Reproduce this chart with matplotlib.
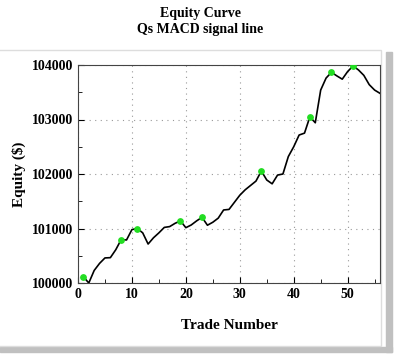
import numpy as np
import matplotlib.pyplot as plt
from matplotlib.patches import Rectangle
from matplotlib.ticker import MultipleLocator

plt.rcParams['font.family'] = ['Liberation Serif', 'DejaVu Serif']
plt.rcParams['font.weight'] = 'bold'

# equity after each trade
trades = list(range(1, 57))
equity = [100115, 100000, 100230, 100360, 100460, 100465, 100610, 100795,
          100790, 100980, 101000, 100920, 100715, 100830, 100920, 101020,
          101035, 101095, 101140, 101015, 101065, 101140, 101205, 101060,
          101115, 101190, 101340, 101350, 101480, 101610, 101710, 101790,
          101870, 102055, 101890, 101820, 101980, 102000, 102320, 102500,
          102715, 102750, 103050, 102940, 103540, 103760, 103866, 103800,
          103740, 103880, 103982, 103910, 103810, 103640, 103540, 103480]

# new equity highs marked in green
peak_trades = [1, 8, 11, 19, 23, 34, 43, 47, 51]
peak_equity = [100115, 100795, 101000, 101140, 101205, 102055, 103050, 103866, 103982]

fig = plt.figure(figsize=(4.0, 3.57), dpi=100)
W, H = 400, 357

# panel frame and drop shadow
fig.patches.append(Rectangle((386 / W, 1 - 352 / H), 6 / W, 300 / H,
                             transform=fig.transFigure, color='#c0c0c0', zorder=-10))
fig.patches.append(Rectangle((0, 1 - 352 / H), 392 / W, 5 / H,
                             transform=fig.transFigure, color='#c0c0c0', zorder=-10))
fig.patches.append(Rectangle((-0.01, 1 - 346 / H), 385 / W, 296 / H,
                             transform=fig.transFigure, facecolor='white',
                             edgecolor='#dddddd', lw=1, zorder=-9))

ax = fig.add_axes([78 / W, 1 - 283 / H, 302 / W, 218 / H], zorder=1)
ax.plot(trades, equity, color='black', lw=1.2, zorder=3)
ax.scatter(peak_trades, peak_equity, s=15, color='#22dd22', zorder=4)

ax.set_xlim(0, 56)
ax.set_ylim(100000, 104000)
ax.xaxis.set_major_locator(MultipleLocator(10))
ax.xaxis.set_minor_locator(MultipleLocator(5))
ax.yaxis.set_major_locator(MultipleLocator(1000))
ax.yaxis.set_minor_locator(MultipleLocator(500))
ax.tick_params(which='both', direction='in', labelsize=10)
ax.tick_params(which='major', length=4)
ax.tick_params(which='minor', length=3)
ax.grid(True, which='major', linestyle=(0, (1, 4)), color='#999999', lw=0.8)
for s in ax.spines.values():
    s.set_color('#444444')

ax.set_xlabel('Trade Number', fontsize=11, fontweight='bold', labelpad=13)
ax.set_ylabel('Equity ($)', fontsize=11, fontweight='bold', labelpad=4)
fig.text(0.5, 1 - 13 / H, 'Equity Curve', ha='center', va='center',
         fontsize=10, fontweight='bold')
fig.text(0.5, 1 - 29 / H, 'Qs MACD signal line', ha='center', va='center',
         fontsize=10, fontweight='bold')

fig.savefig('out.png', dpi=100)
